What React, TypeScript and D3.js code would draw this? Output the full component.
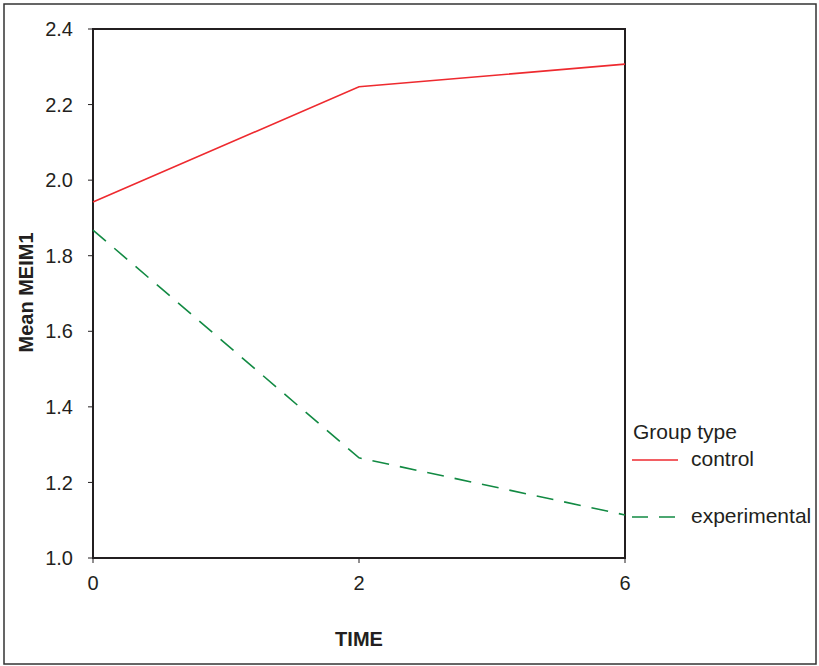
import React from "react";
import * as d3 from "d3";

const categories = ["0", "2", "6"];
const controlValues = [1.942, 2.247, 2.307];
const experimentalValues = [1.868, 1.265, 1.114];
const yTicks = [1.0, 1.2, 1.4, 1.6, 1.8, 2.0, 2.2, 2.4];

export default function App() {
  const W = 819, H = 666;
  const left = 93, right = 625, top = 29, bottom = 558;
  const x = d3.scalePoint<string>().domain(categories).range([left, right]);
  const y = d3.scaleLinear().domain([1.0, 2.4]).range([bottom, top]);
  const line = d3
    .line<number>()
    .x((_, i) => x(categories[i]) as number)
    .y((d) => y(d));
  const font = "'Liberation Sans', Arial, sans-serif";
  const axisColor = "#231f20";
  return (
    <svg width={W} height={H} style={{ position: "absolute", left: 0, top: 0 }} fontFamily={font}>
      <rect x={0} y={0} width={W} height={H} fill="#fff" />
      <rect x={4} y={4} width={812} height={660} fill="none" stroke="#333" strokeWidth={1.5} />
      <rect x={left} y={top} width={right - left} height={bottom - top} fill="none" stroke={axisColor} strokeWidth={2} />
      {yTicks.map((t) => (
        <g key={t}>
          <line x1={left - 5} x2={left} y1={y(t)} y2={y(t)} stroke={axisColor} strokeWidth={1} />
          <text x={left - 20} y={y(t)} dy="0.36em" textAnchor="end" fontSize={20} fill="#231f20">
            {t.toFixed(1)}
          </text>
        </g>
      ))}
      {categories.map((c) => (
        <g key={c}>
          <line x1={x(c)} x2={x(c)} y1={bottom} y2={bottom + 5} stroke={axisColor} strokeWidth={1} />
          <text x={x(c)} y={bottom + 32} textAnchor="middle" fontSize={20} fill="#231f20">
            {c}
          </text>
        </g>
      ))}
      <path d={line(controlValues) || ""} fill="none" stroke="#ee2a2f" strokeWidth={1.6} />
      <path d={line(experimentalValues) || ""} fill="none" stroke="#128a43" strokeWidth={1.6} strokeDasharray="17,11" />
      <text x={359} y={646} textAnchor="middle" fontSize={20} fontWeight="bold" fill="#231f20">
        TIME
      </text>
      <text
        transform={`translate(33,${(top + bottom) / 2 - 1}) rotate(-90)`}
        textAnchor="middle"
        fontSize={20}
        fontWeight="bold"
        fill="#231f20"
      >
        Mean MEIM1
      </text>
      <text x={633} y={439} fontSize={21} fill="#231f20">Group type</text>
      <line x1={632} x2={678} y1={460} y2={460} stroke="#ee2a2f" strokeWidth={1.6} />
      <text x={691} y={466} fontSize={21} fill="#231f20">control</text>
      <line x1={632} x2={677} y1={517} y2={517} stroke="#128a43" strokeWidth={1.6} strokeDasharray="16,11" />
      <text x={691} y={523} fontSize={21} fill="#231f20">experimental</text>
    </svg>
  );
}
